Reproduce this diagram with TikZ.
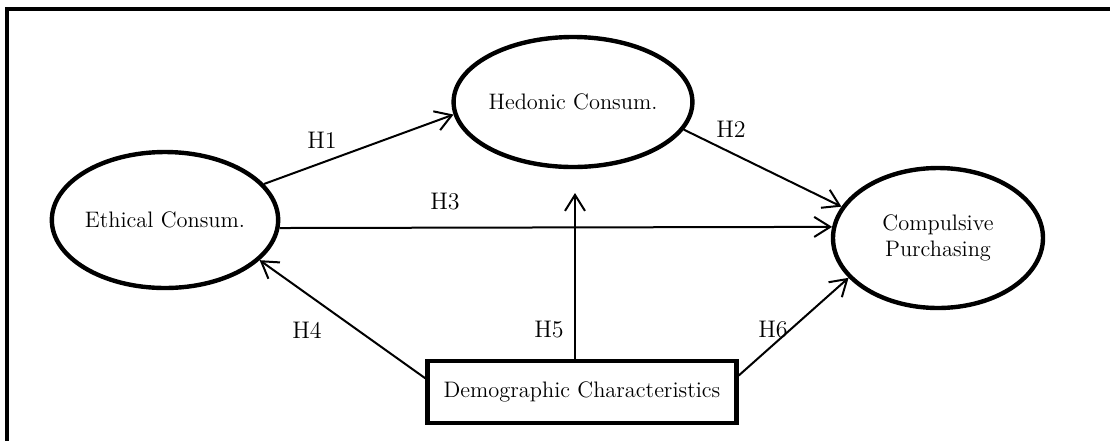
\documentclass[tikz,border=0pt]{standalone}
\usetikzlibrary{shapes.geometric,arrows.meta}
\tikzset{
  construct/.style={ellipse, draw, line width=2.2pt, inner sep=0pt, align=center, font=\fontsize{11.2}{12.8}\selectfont},
  demobox/.style={rectangle, draw, line width=2.2pt, inner sep=0pt, font=\fontsize{11.2}{12.8}\selectfont},
  hyp/.style={line width=1pt, -{Straight Barb[length=8pt, width=10pt, line width=1pt]}},
  hlabel/.style={font=\fontsize{12}{13}\selectfont}
}
\begin{document}
\begin{tikzpicture}[x=0.5pt, y=-0.5pt]
  \useasboundingbox (0,0) rectangle (1110,441);
  % frame
  \draw[line width=1.6pt] (1110,9) -- (7,9) -- (7,441);

  % constructs
  \node[construct, minimum width=92pt, minimum height=68pt] (eth) at (165,220) {Ethical Consum.};
  \node[construct, minimum width=103.5pt, minimum height=65pt] (hed) at (573,102) {Hedonic Consum.};
  \node[construct, minimum width=105pt, minimum height=70pt] (comp) at (938,238) {Compulsive\\Purchasing};
  \node[demobox, minimum width=154.5pt, minimum height=31pt] (demo) at (582,392) {Demographic Characteristics};
  \coordinate (h5tip) at (575,193);

  % hypotheses
  \draw[hyp] (eth.20) -- (hed.186);
  \draw[hyp] (hed.-14) -- (comp.162);
  \draw[hyp] (eth.-4) -- (comp.174);
  \draw[hyp] (demo.175) -- (eth.-23);
  \draw[hyp] (h5tip |- demo.north) -- (h5tip);
  \draw[hyp] (demo.6) -- (comp.204);

  % labels
  \node[hlabel] (h1) at (322,140) {H1};
  \node[hlabel] (h2) at (731,129) {H2};
  \node[hlabel] (h3) at (445,202) {H3};
  \node[hlabel] (h4) at (307,330) {H4};
  \node[hlabel] (h5) at (549,330) {H5};
  \node[hlabel] (h6) at (773,330) {H6};
\end{tikzpicture}
\end{document}
